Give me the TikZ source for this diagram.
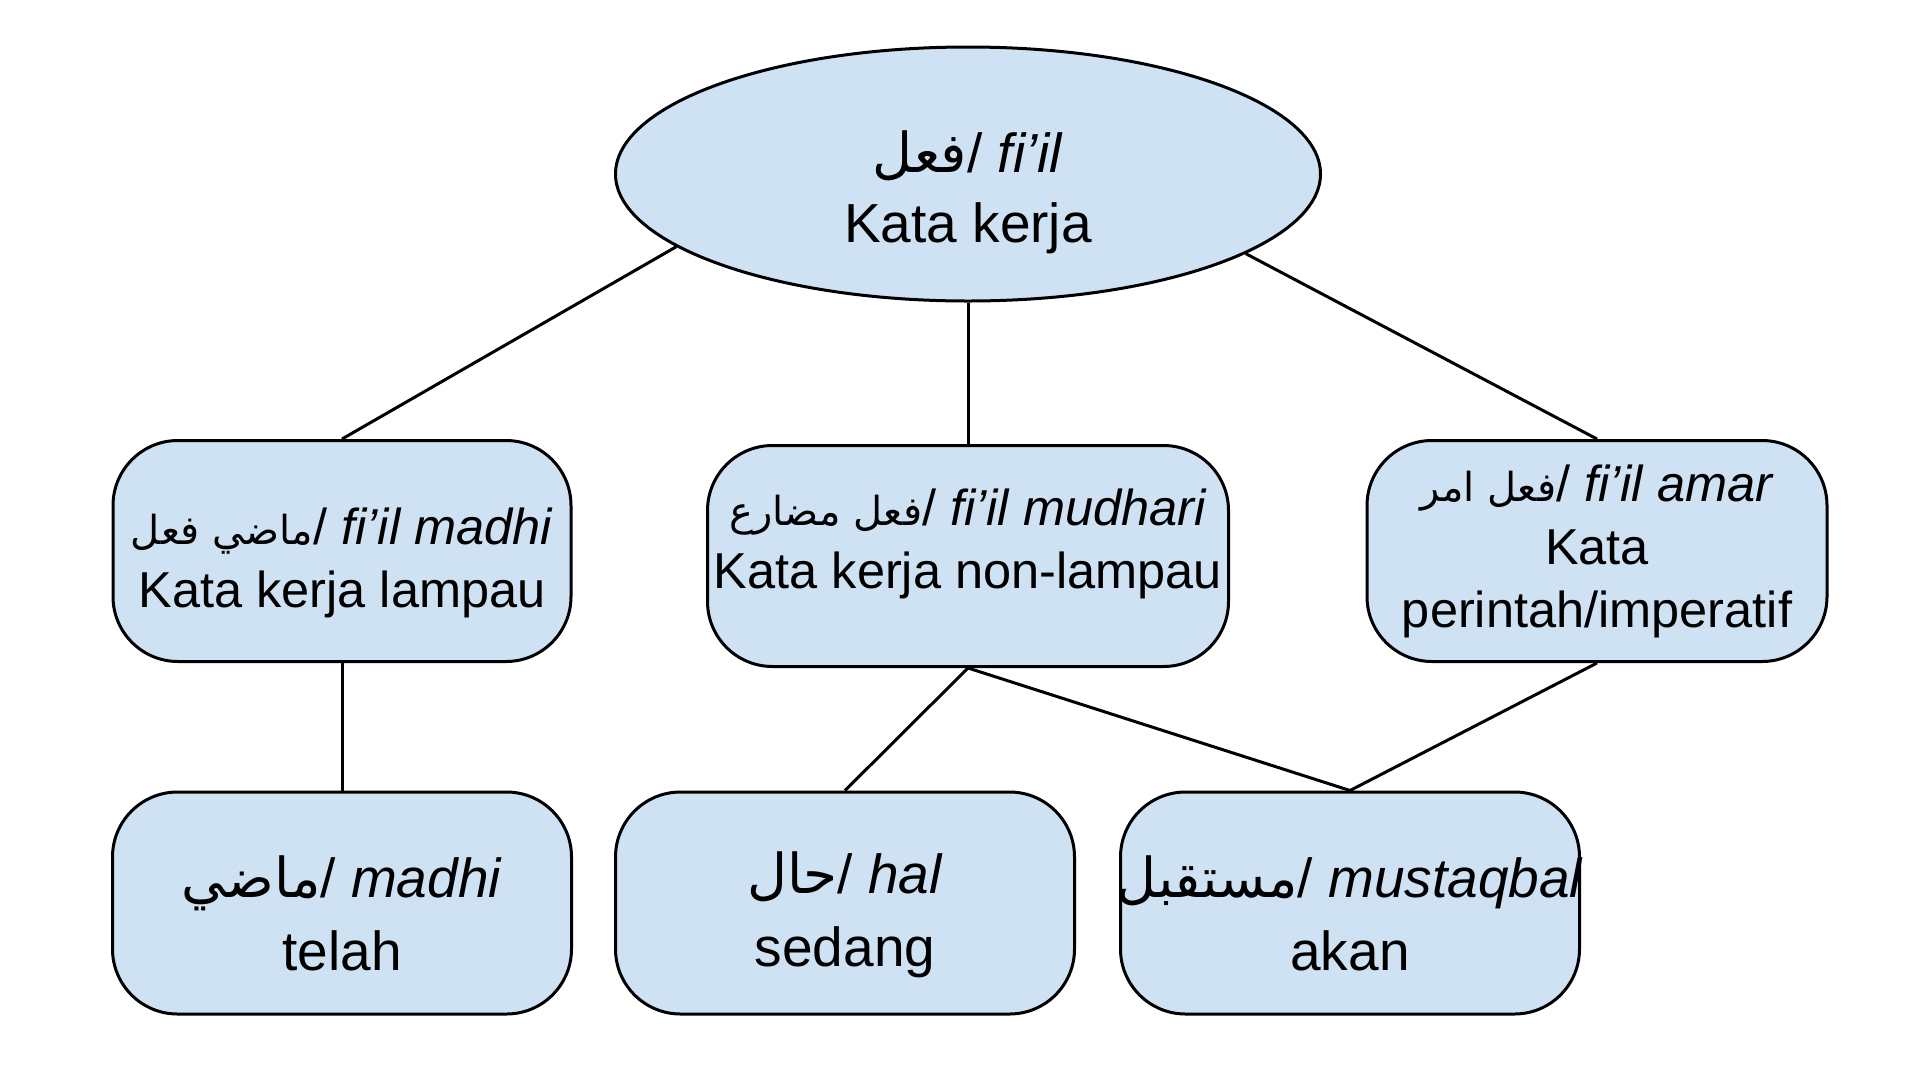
\documentclass[tikz,border=0pt]{standalone}
\usepackage{fontspec}
\setmainfont{Liberation Sans}
\newfontfamily\arabicfont[Script=Arabic]{DejaVu Sans}
\TeXXeTstate=1
\usetikzlibrary{shapes}
\definecolor{boxblue}{HTML}{CFE2F3}
\newcommand{\artext}[1]{{\arabicfont\beginR #1\endR}}
\newcommand{\midar}[1]{{\arabicfont\fontsize{40}{40}\selectfont\beginR #1\endR}}

\begin{document}
\begin{tikzpicture}[x=1pt, y=-1pt,
		verb/.style={draw=black, line width=3pt, fill=boxblue},
		ovalbox/.style={verb, ellipse, minimum width=705pt, minimum height=254pt},
		midbox/.style={verb, rounded corners=65pt, minimum width=458pt, minimum height=221pt},
		lowbox/.style={verb, rounded corners=65pt, minimum width=459pt, minimum height=222pt},
		ovaltext/.style={align=center, inner sep=0pt, font=\fontsize{55}{70}\selectfont},
		midtext/.style={align=center, inner sep=0pt, font=\fontsize{50.5}{63}\selectfont},
		lowtext/.style={align=center, inner sep=0pt, font=\fontsize{55}{73}\selectfont},
		link/.style={line width=3pt}]
		\useasboundingbox (0,0) rectangle (1920,1080);
		
		\node[ovalbox] (fiil) at (968,174){};
		
		\node[midbox] (madhi) at (342,551){};
		\node[midbox, minimum width=521pt] (mudhari) at (968,556){};
		\node[midbox, minimum width=460pt] (amar) at (1597,551){};
		
		\node[lowbox] (telah) at (342,903){};
		\node[lowbox] (sedang) at (845,903){};
		\node[lowbox] (akan) at (1350,903){};
		
		\node[ovaltext] (fiil text) at (968,192){\artext{فعل}/ \textit{fi’il}\\Kata kerja};
		\node[midtext] (madhi text) at (342,563){\midar{ماضي فعل}/ \textit{fi’il madhi}\\Kata kerja lampau};
		\node[midtext] (mudhari text) at (968,544){\midar{فعل مضارع}/ \textit{fi’il mudhari}\\Kata kerja non-lampau};
		\node[midtext] (amar text) at (1597,551){\midar{فعل امر}/ \textit{fi’il amar}\\Kata\\perintah/imperatif};
		\node[lowtext] (telah text) at (342,913){\artext{ماضي}/ \textit{madhi}\\telah};
		\node[lowtext] (sedang text) at (845,915){\artext{حال}/ \textit{hal}\\sedang};
		\node[lowtext] (akan text) at (1350,913){\artext{مستقبل}/ \textit{mustaqbal}\\akan};
		
		\draw[link] (fiil.194) -- (madhi.north);
		\draw[link] (fiil.south) -- (mudhari.north);
		\draw[link] (fiil.344) -- (amar.north);
		\draw[link] (madhi.south) -- (telah.north);
		\draw[link] (mudhari.south) -- (sedang.north);
		\draw[link] (mudhari.south) -- (akan.north);
		\draw[link] (amar.south) -- (akan.north);
	\end{tikzpicture}
\end{document}
